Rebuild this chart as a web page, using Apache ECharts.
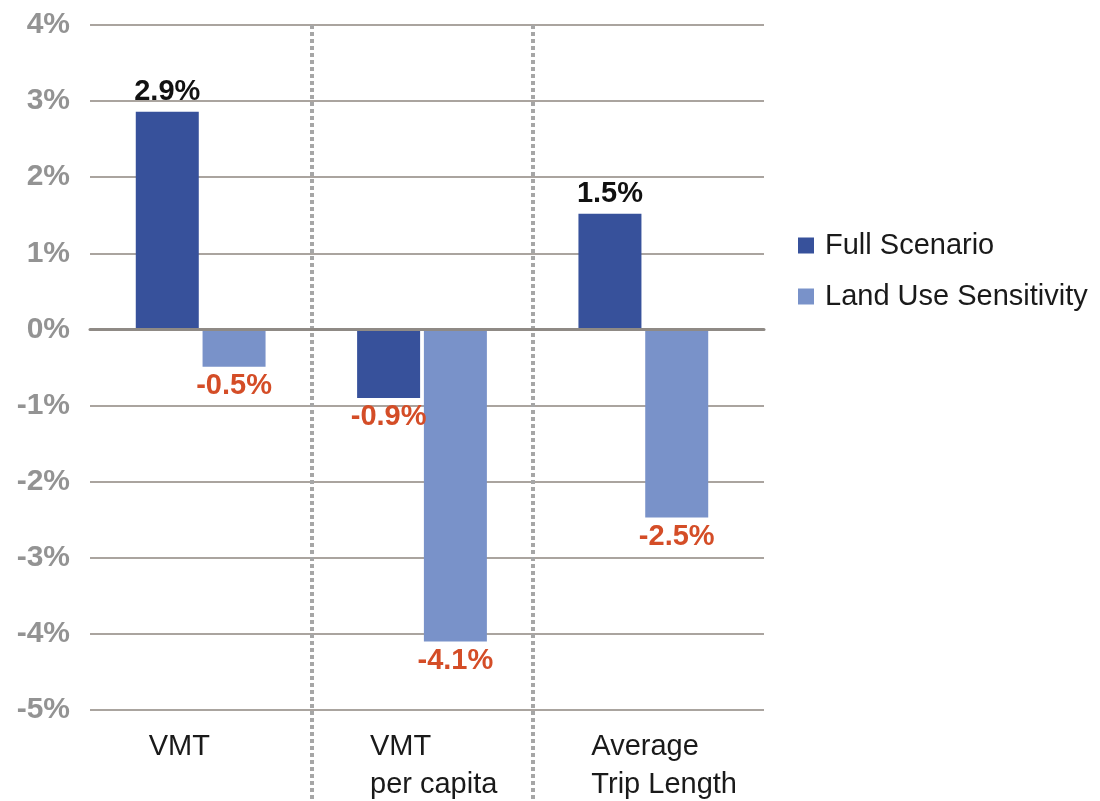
<!DOCTYPE html>
<html>
<head>
<meta charset="utf-8">
<script src="https://cdn.jsdelivr.net/npm/echarts@6/dist/echarts.min.js"></script>
<style>
html,body{margin:0;padding:0;background:#fff;}
#c{width:1100px;height:801px;}
</style>
</head>
<body>
<div id="c"></div>
<script>
const categories = ['VMT', 'VMT\nper capita', 'Average\nTrip Length'];
const fullScenario = [2.86, -0.9, 1.52];
const landUseSensitivity = [-0.49, -4.1, -2.47];
const seriesNames = ['Full Scenario', 'Land Use Sensitivity'];
const yMin = -5, yMax = 4, yStep = 1;

const FONT = "'Liberation Sans', Arial, sans-serif";
const DARK = '#37519b';
const LIGHT = '#7992c9';

function toData(arr) {
  return arr.map(v => ({
    value: v,
    label: {
      position: v >= 0 ? 'top' : 'bottom',
      color: v >= 0 ? '#111111' : '#d44d27'
    }
  }));
}

const chart = echarts.init(document.getElementById('c'), null, {renderer: 'canvas'});
chart.setOption({
  animation: false,
  backgroundColor: '#ffffff',
  grid: [
    {left: 90, right: 336, top: 25, bottom: 91},
    {left: 90, width: 664, top: 25, bottom: 91},
    {left: 90, width: 664, top: 25, bottom: 0}
  ],
  legend: {
    orient: 'vertical',
    left: 793,
    top: 226,
    itemWidth: 16,
    itemHeight: 16,
    itemGap: 22,
    icon: 'rect',
    data: seriesNames,
    textStyle: {fontFamily: FONT, fontSize: 29, color: '#1a1a1a', padding: [0, 0, 0, 6]}
  },
  xAxis: [
    {
      gridIndex: 0, type: 'category', data: categories, z: 10,
      axisLine: {show: true, onZero: true, lineStyle: {color: '#8f8a85', width: 3}},
      axisTick: {show: false}, axisLabel: {show: false}, splitLine: {show: false}
    },
    {
      gridIndex: 1, type: 'category', data: categories,
      axisLine: {show: false}, axisTick: {show: false}, splitLine: {show: false},
      axisLabel: {
        margin: 18,
        align: 'center',
        formatter: function (v) { return v.split('\n').map(s => '{a|' + s + '}').join('\n'); },
        rich: {a: {width: 104, align: 'left', fontFamily: FONT, fontSize: 29, color: '#1a1a1a', lineHeight: 38}}
      }
    },
    {
      gridIndex: 2, type: 'value', min: 0, max: 3, interval: 1,
      axisLine: {show: false}, axisTick: {show: false}, axisLabel: {show: false},
      splitLine: {show: true, showMinLine: false, showMaxLine: false,
        lineStyle: {color: '#a6a6a6', width: 4, type: [4, 3]}}
    }
  ],
  yAxis: [
    {
      gridIndex: 0, type: 'value', min: yMin, max: yMax, interval: yStep,
      axisLine: {show: false}, axisTick: {show: false},
      axisLabel: {margin: 20, formatter: '{value}%', fontFamily: FONT, fontSize: 30,
        fontWeight: 'bold', color: '#939393'},
      splitLine: {show: true, lineStyle: {color: '#aaa49f', width: 2}}
    },
    {
      gridIndex: 1, type: 'value', min: yMin, max: yMax, interval: yStep, show: false,
      splitLine: {show: false}
    },
    {
      gridIndex: 2, type: 'value', min: 0, max: 1, show: false, splitLine: {show: false}
    }
  ],
  series: [
    {
      name: seriesNames[0], type: 'bar', xAxisIndex: 1, yAxisIndex: 1,
      barWidth: 63, barGap: '6%',
      itemStyle: {color: DARK},
      label: {show: true, distance: 5, fontFamily: FONT, fontSize: 29, fontWeight: 'bold',
        formatter: p => p.value.toFixed(1) + '%'},
      data: toData(fullScenario)
    },
    {
      name: seriesNames[1], type: 'bar', xAxisIndex: 1, yAxisIndex: 1,
      barWidth: 63, barGap: '6%',
      itemStyle: {color: LIGHT},
      label: {show: true, distance: 5, fontFamily: FONT, fontSize: 29, fontWeight: 'bold',
        formatter: p => p.value.toFixed(1) + '%'},
      data: toData(landUseSensitivity)
    }
  ]
});
</script>
</body>
</html>
